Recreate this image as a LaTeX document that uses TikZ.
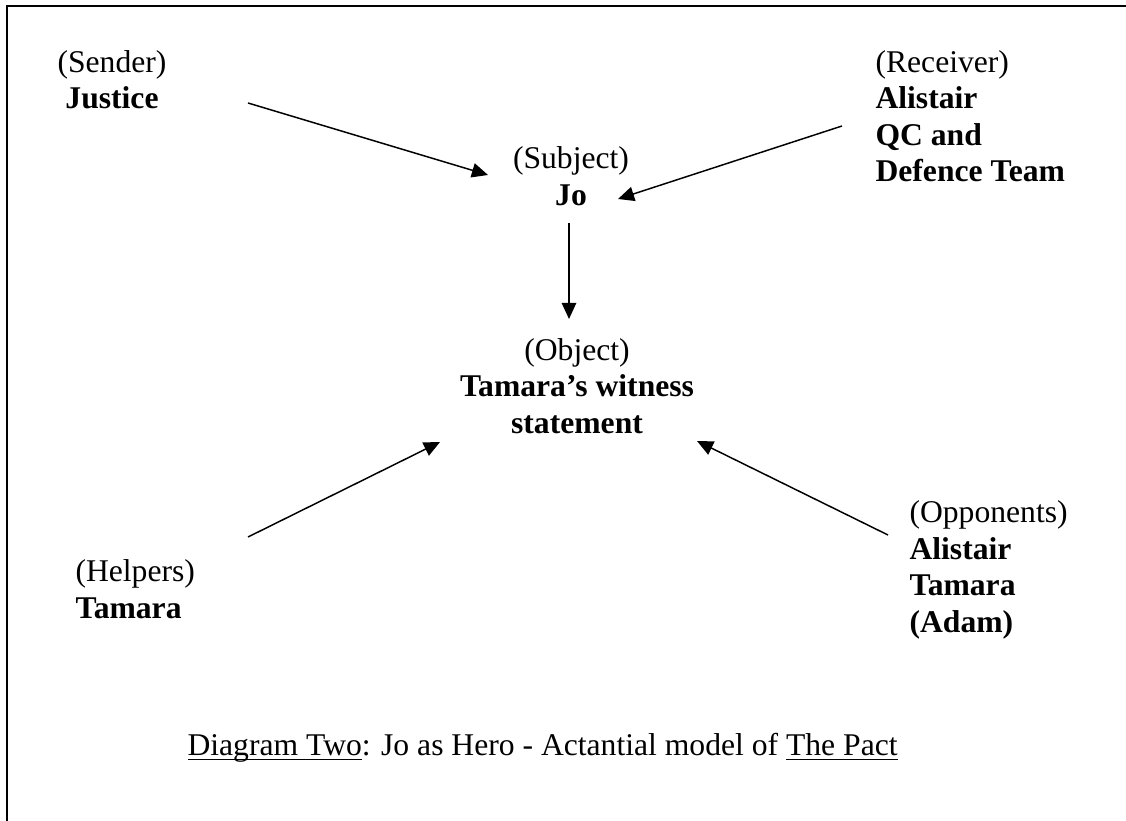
\documentclass[tikz,border=0pt]{standalone}
\usepackage{fontspec}
\setmainfont{Liberation Serif}
\usetikzlibrary{arrows.meta}

% underline that sits just under the baseline, as in the caption
\newsavebox\capbox
\newcommand\capul[1]{\sbox\capbox{#1}\rlap{\rule[-1.7pt]{\wd\capbox}{0.55pt}}\usebox\capbox}

\begin{document}
\begin{tikzpicture}[x=0.3731pt, y=-0.3731pt,
  every node/.style={inner sep=0pt, font=\fontsize{11.8}{13.6}\selectfont},
  actant/.style={align=center},
  sideactant/.style={align=left, anchor=west},
  arr/.style={line width=0.55pt, -{Triangle[length=6pt,width=5.4pt]}}]
  \useasboundingbox (0,0) rectangle (1126,821);
  % frame (open at right and bottom)
  \draw[line width=0.9pt] (1126,6) -- (7,6) -- (7,821);
  % Row 1: sender, subject, receiver
  \node[actant] (sender) at (112,80) {(Sender)\\\textbf{Justice}};
  \node[actant] (subject) at (571,176) {(Subject)\\\textbf{Jo}};
  \node[sideactant] (receiver) at (875,116) {(Receiver)\\\textbf{Alistair}\\\textbf{QC and}\\\textbf{Defence Team}};
  % Row 2: object
  \node[actant] (object) at (577,386) {(Object)\\\textbf{Tamara’s witness}\\\textbf{statement}};
  % Row 3: helpers, opponents
  \node[sideactant] (helpers) at (75,589) {(Helpers)\\\textbf{Tamara}};
  \node[sideactant] (opponents) at (909,570) {(Opponents)\\\textbf{Alistair}\\\textbf{Tamara}\\\textbf{(Adam)}};
  % Caption
  \node[anchor=west] (caption) at (187,748) {\capul{Diagram Two}: Jo as Hero - Actantial model of \capul{The Pact}};

  % Connections
  \draw[arr] ([shift={(136,23)}]sender.center) -- ([shift={(-83,-1)}]subject.center);
  \draw[arr] ([shift={(-33,10)}]receiver.west) -- ([shift={(47,23)}]subject.center);
  \draw[arr] ([shift={(-2,47)}]subject.center) -- ([shift={(-8,-67)}]object.center);
  \draw[arr] ([shift={(173,-52)}]helpers.west) -- ([shift={(-137,56)}]object.center);
  \draw[arr] ([shift={(-21,-35)}]opponents.west) -- ([shift={(120,55)}]object.center);
\end{tikzpicture}
\end{document}
